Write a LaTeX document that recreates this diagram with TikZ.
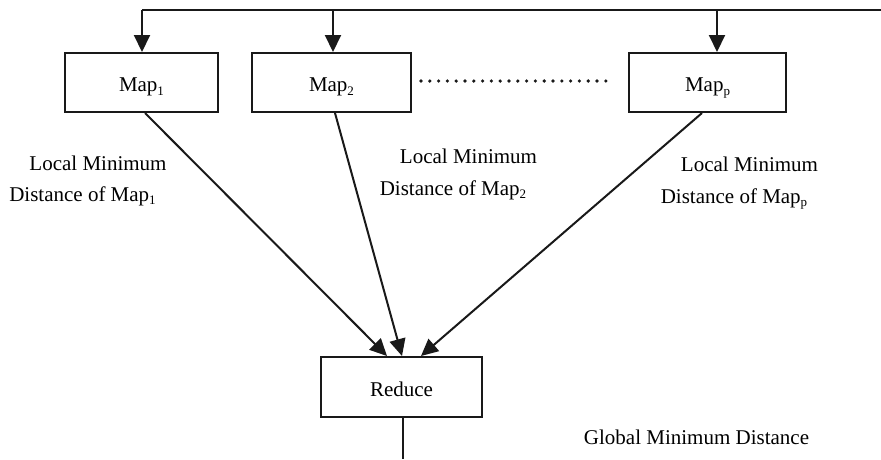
\documentclass[tikz,border=0pt]{standalone}
\usepackage{fontspec}
\setmainfont{Liberation Serif}
\usetikzlibrary{arrows.meta}
% small lowered subscript used in the map labels
\newcommand{\subidx}[1]{\raisebox{-0.35ex}{\fontsize{13}{13}\selectfont #1}}
\begin{document}
\begin{tikzpicture}[x=1pt,y=-1pt,
  font=\fontsize{21}{30}\selectfont,
  conn/.style={line width=2pt, draw=black!90},
  arr/.style={conn, -{Triangle[length=17pt,width=16pt]}},
  procbox/.style={draw=black!90, line width=2pt, inner sep=0pt,
    minimum height=59pt, text height=18.5pt, text depth=0pt},
  lbl/.style={anchor=base, inner sep=0pt},
  dots/.style={line width=3.6pt, line cap=round, dash pattern=on 0pt off 8.8pt, draw=black!90}]
\useasboundingbox (0,0) rectangle (881,459);

% map and reduce stages
\node[procbox, minimum width=153pt] (map1) at (141.5,82.5) {Map\subidx{1}};
\node[procbox, minimum width=159pt] (map2) at (331.5,82.5) {Map\subidx{2}};
\node[procbox, minimum width=157pt] (mapp) at (707.5,82.5) {Map\subidx{p}};
\node[procbox, minimum width=161pt, minimum height=60pt] (reduce) at (401.5,387) {Reduce};

% input distribution bus
\coordinate (busR) at (881,10);
\coordinate (busL) at (142,10);
\coordinate (bus2) at (333,10);
\coordinate (busp) at (717,10);
\draw[conn] (busR) -- (busL);
\draw[arr] (busL) -- (busL |- map1.north);
\draw[arr] (bus2) -- (bus2 |- map2.north);
\draw[arr] (busp) -- (busp |- mapp.north);

% further maps
\draw[dots] ([xshift=9pt,yshift=1.5pt]map2.east) -- ([xshift=-15pt,yshift=1.5pt]mapp.west);

% local results into reduce
\draw[arr] ([xshift=3.5pt]map1.south) -- ([xshift=-14.5pt]reduce.north);
\draw[arr] ([xshift=3.5pt]map2.south) -- ([xshift=0.5pt]reduce.north);
\draw[arr] ([xshift=-5.5pt]mapp.south) -- ([xshift=19.5pt]reduce.north);

% global result
\coordinate (outend) at (403,459);
\draw[conn] ([xshift=1.5pt]reduce.south) -- (outend);

% labels
\node[lbl] (l1a) at (98,170) {Local Minimum};
\node[lbl] (l1b) at (82.5,201) {Distance of Map\subidx{1}};
\node[lbl] (l2a) at (468.5,163.5) {Local Minimum};
\node[lbl] (l2b) at (453,195) {Distance of Map\subidx{2}};
\node[lbl] (l3a) at (749.5,171.5) {Local Minimum};
\node[lbl] (l3b) at (734,203) {Distance of Map\subidx{p}};
\node[lbl] (glob) at (696.5,444) {Global Minimum Distance};
\end{tikzpicture}
\end{document}
